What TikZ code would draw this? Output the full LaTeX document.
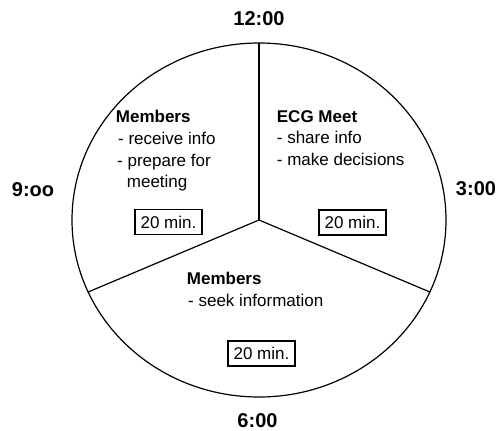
\documentclass[tikz,border=0pt]{standalone}
\usepackage{fontspec}
\setmainfont{Liberation Sans}
\usetikzlibrary{calc}
\begin{document}
\begin{tikzpicture}[x=1pt,y=-1pt,
  timelbl/.style={font=\fontsize{20}{24}\selectfont\bfseries, inner sep=0pt, anchor=center},
  headtxt/.style={font=\fontsize{17}{21}\selectfont\bfseries, inner sep=0pt, anchor=base west},
  itemtxt/.style={font=\fontsize{17}{21}\selectfont, inner sep=0pt, anchor=base west},
  minbox/.style={draw, line width=1.1pt, font=\fontsize{17}{21}\selectfont, inner sep=0pt,
                 minimum width=67pt, minimum height=25pt, anchor=center},
  rim/.style={line width=1.2pt},
  spoke/.style={line width=1.2pt}]
\useasboundingbox (0,0) rectangle (498,431);
\fill[white] (0,0) rectangle (498,431);
% clock face
\coordinate (c) at (259,220);
\draw[rim] (c) ellipse [x radius=187, y radius=177];
\coordinate (top) at ($(c)+(-90:187 and 177)$);
\coordinate (rgt) at ($(c)+(24:187 and 177)$);
\coordinate (lft) at ($(c)+(156:187 and 177)$);
\draw[spoke] (c) -- (top);
\draw[spoke] (c) -- (rgt);
\draw[spoke] (c) -- (lft);
% time labels
\node[timelbl] (t12) at (259,18.5) {12:00};
\node[timelbl] (t9) at (33,190) {9:oo};
\node[timelbl] (t3) at (476,189) {3:00};
\node[timelbl] (t6) at (257.5,420.8) {6:00};
% left sector
\node[headtxt] (lh) at (115.7,122.7) {Members};
\node[itemtxt] (l1) at (118,144.3) {- receive info};
\node[itemtxt] (l2) at (117,166) {- prepare for};
\node[itemtxt] (l3) at (126.7,187.7) {meeting};
\node[minbox] (lb) at (168.5,222) {20 min.};
% right sector
\node[headtxt] (rh) at (276.7,122.7) {ECG Meet};
\node[itemtxt] (r1) at (276.7,143.8) {- share info};
\node[itemtxt] (r2) at (276.7,165.2) {- make decisions};
\node[minbox] (rb) at (352.5,222.5) {20 min.};
% bottom sector
\node[headtxt] (bh) at (186.7,284.3) {Members};
\node[itemtxt] (b1) at (188,306.7) {- seek information};
\node[minbox] (bb) at (261.5,353.5) {20 min.};
\end{tikzpicture}
\end{document}
